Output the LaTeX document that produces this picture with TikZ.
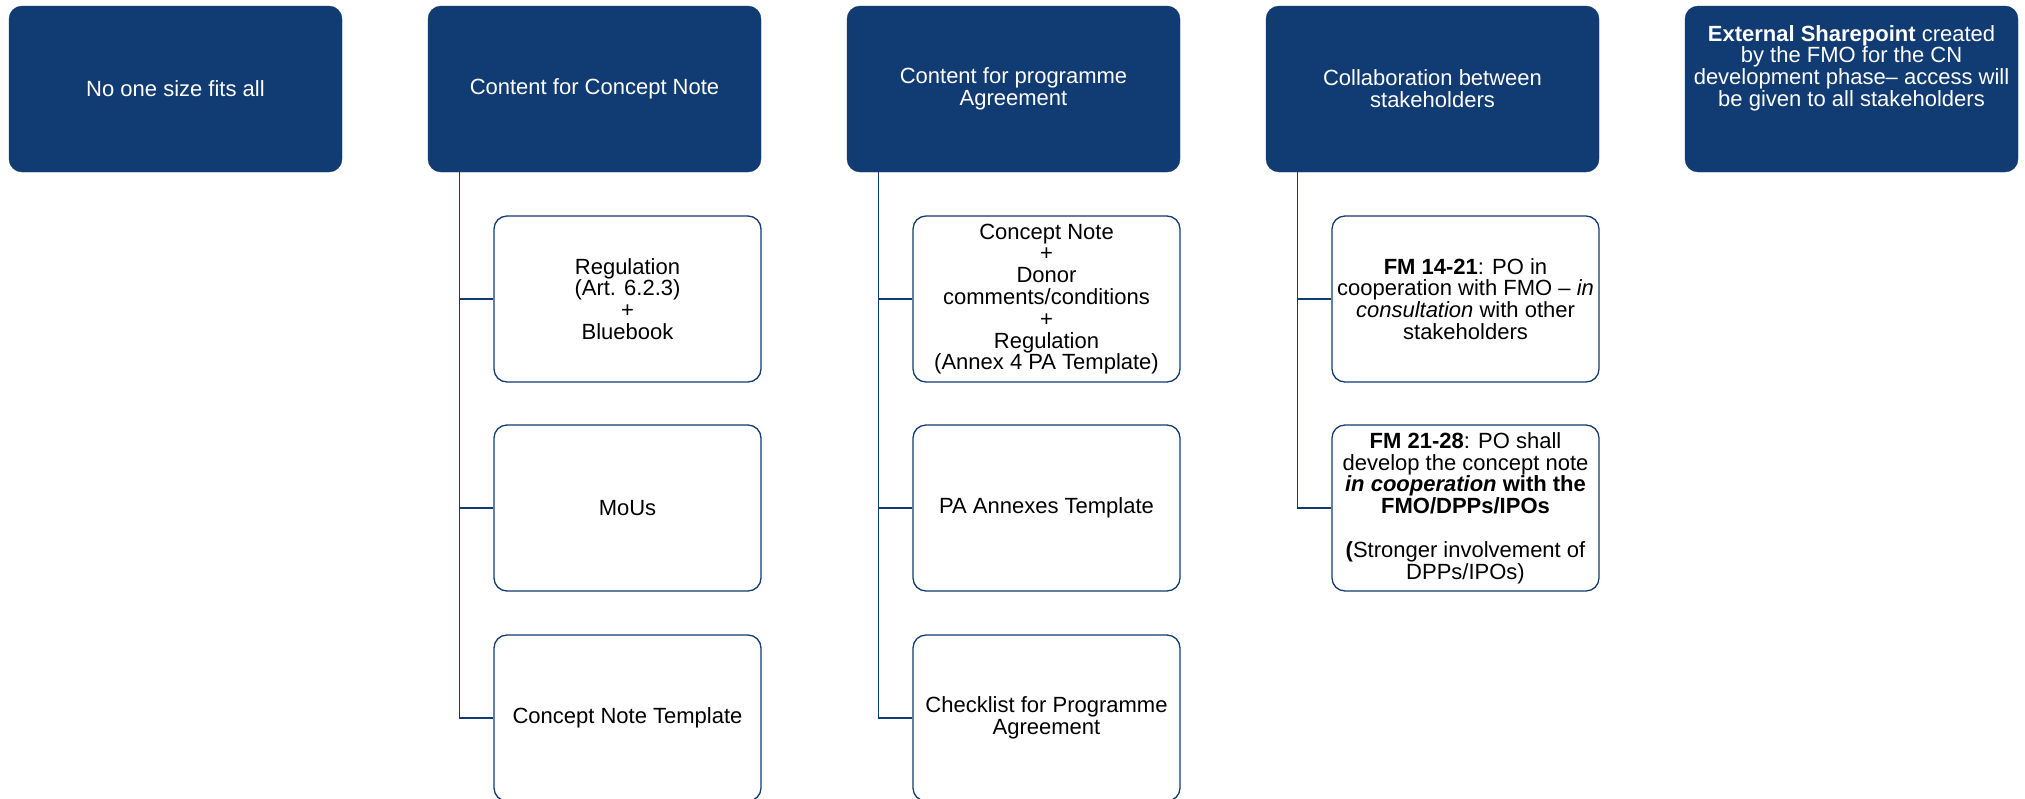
\documentclass[tikz,border=0pt]{standalone}
\usepackage{fontspec}
\setmainfont{Liberation Sans}
\definecolor{navy}{RGB}{17,59,115}
\tikzset{
  headbox/.style={draw=navy, fill=navy, rounded corners=13pt, minimum width=333pt, minimum height=166pt,
    text=white, align=center, inner sep=0pt, font=\fontsize{22}{21.8}\selectfont},
  headtext/.style={text=white, align=center, inner sep=0pt, font=\fontsize{22}{21.8}\selectfont},
  childbox/.style={draw=navy, fill=white, line width=1.3pt, rounded corners=13pt, minimum width=267pt, minimum height=166pt,
    text=black, align=center, inner sep=0pt, font=\fontsize{22}{21.8}\selectfont},
  link/.style={draw=navy, line width=1.3pt}
}
\begin{document}
\begin{tikzpicture}[x=1pt,y=-1pt]
\useasboundingbox (0,0) rectangle (2025,798);
\clip (0,0) rectangle (2025,798);
% top boxes
\node[headbox] (b1) at (175.5,89) {No one size fits all};
\node[headbox] (b2) at (594.5,89) {Content for Concept Note};
\node[headbox] (b3) at (1013.5,89) {Content for programme\\Agreement};
\node[headbox] (b4) at (1432.5,89) {Collaboration between\\stakeholders};
\node[headbox] (b5) at (1851.5,89) {};
\node[headtext, anchor=north] (b5t) at (1851.5,25) {\textbf{External Sharepoint} created\\by the FMO for the CN\\development phase– access will\\be given to all stakeholders};
% trunk tops
\coordinate (t2) at ([xshift=32pt]b2.south west);
\coordinate (t3) at ([xshift=32pt]b3.south west);
\coordinate (t4) at ([xshift=32pt]b4.south west);
% column 2
\node[childbox] (c21) at (627.5,299) {Regulation\\(Art. 6.2.3)\\+\\Bluebook};
\node[childbox] (c22) at (627.5,508) {MoUs};
\node[childbox] (c23) at (627.5,718) {Concept Note Template};
% column 3
\node[childbox] (c31) at (1046.5,299) {Concept Note\\+\\Donor\\comments/conditions\\+\\Regulation\\(Annex 4 PA Template)};
\node[childbox] (c32) at (1046.5,508) {PA Annexes Template};
\node[childbox] (c33) at (1046.5,718) {Checklist for Programme\\Agreement};
% column 4
\node[childbox] (c41) at (1465.5,299) {\textbf{FM 14-21}: PO in\\cooperation with FMO – \textit{in}\\\textit{consultation} with other\\stakeholders};
\node[childbox] (c42) at (1465.5,508) {\textbf{FM 21-28}: PO shall\\develop the concept note\\\textbf{\textit{in cooperation} with the}\\\textbf{FMO/DPPs/IPOs}\\[21.8pt]\textbf{(}Stronger involvement of\\DPPs/IPOs)};
% connectors
\draw[link] (t2) |- (c21.west);
\draw[link] (t2) |- (c22.west);
\draw[link] (t2) |- (c23.west);
\draw[link] (t3) |- (c31.west);
\draw[link] (t3) |- (c32.west);
\draw[link] (t3) |- (c33.west);
\draw[link] (t4) |- (c41.west);
\draw[link] (t4) |- (c42.west);
\end{tikzpicture}
\end{document}
